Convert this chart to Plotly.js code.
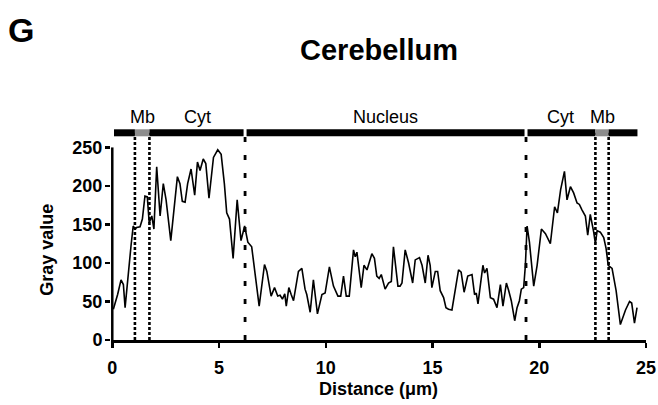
<!DOCTYPE html>
<html>
<head>
<meta charset="utf-8">
<script src="https://cdn.plot.ly/plotly-3.0.1.min.js"></script>
<style>
  html, body { margin: 0; padding: 0; background: #fff; }
  #chart { width: 658px; height: 405px; }
</style>
</head>
<body>
<div id="chart"></div>
<script>
// ---- Data ----
const distance = [0.05,0.25,0.41,0.52,0.60,0.75,0.88,0.98,1.06,1.14,1.30,1.41,1.53,1.64,1.73,1.85,1.95,2.08,2.24,2.39,2.52,2.74,2.89,3.05,3.17,3.28,3.41,3.53,3.69,3.86,3.99,4.11,4.26,4.38,4.53,4.74,4.94,5.10,5.25,5.36,5.49,5.66,5.85,6.03,6.20,6.35,6.53,6.88,7.13,7.24,7.44,7.60,7.75,7.86,7.97,8.08,8.15,8.27,8.38,8.49,8.72,8.88,9.03,9.11,9.27,9.42,9.61,9.82,9.97,10.17,10.36,10.57,10.70,10.83,10.96,11.10,11.30,11.38,11.46,11.66,11.79,11.93,12.16,12.28,12.39,12.50,12.60,12.66,12.78,12.94,13.07,13.17,13.38,13.48,13.57,13.72,13.88,14.07,14.19,14.39,14.51,14.66,14.79,14.89,14.97,15.13,15.24,15.36,15.52,15.63,15.75,15.91,16.07,16.22,16.34,16.48,16.65,16.85,16.97,17.05,17.13,17.29,17.36,17.44,17.55,17.71,17.86,18.02,18.18,18.30,18.46,18.57,18.69,18.85,18.96,19.07,19.16,19.27,19.35,19.43,19.54,19.74,19.90,20.10,20.29,20.52,20.72,20.85,21.00,21.18,21.30,21.46,21.61,21.77,21.88,22.00,22.16,22.27,22.39,22.55,22.63,22.71,22.86,23.02,23.13,23.23,23.41,23.60,23.80,24.04,24.23,24.33,24.46,24.58];
const grayValue = [40,59,78,72,42,89,123,148,144,146,147,157,187,186,152,161,144,225,161,203,182,129,169,212,203,180,179,203,222,188,231,220,235,229,184,237,247,241,203,165,157,106,182,129,148,127,121,44,98,89,57,68,57,58,53,60,44,68,59,51,89,93,66,59,36,78,34,59,61,95,70,57,57,83,57,57,117,108,114,68,97,91,112,106,83,80,85,78,66,74,76,121,70,70,74,117,100,74,104,107,97,74,110,97,68,89,89,64,55,42,40,39,64,91,88,62,83,85,59,61,47,80,97,87,93,55,53,42,72,44,74,64,51,25,42,51,66,68,97,148,127,70,97,144,138,125,173,165,195,219,182,199,191,178,176,169,161,136,163,140,125,142,140,133,119,97,93,64,20,39,50,48,22,42];

// Compartment labels and their boundaries (µm)
const regionNames = ["Mb", "Cyt", "Nucleus", "Cyt", "Mb"];
const regionStart = [1.06, 1.74, 6.22, 19.38, 22.63];
const regionEnd   = [1.74, 6.22, 19.38, 22.63, 23.25];
const profileExtent = [0.08, 24.6];
const barLevel = 269;        // gray value level of the compartment bar
const labelLevel = 290;      // gray value level of the compartment labels

const xTicks = [0, 5, 10, 15, 20, 25];
const yTicks = [0, 50, 100, 150, 200, 250];

const FONT = 'Liberation Sans, Arial, sans-serif';

// ---- Build traces ----
const traces = [];

// vertical dashed boundaries
const membraneBounds = [regionStart[0], regionEnd[0], regionStart[4], regionEnd[4]];
const nucleusBounds = [regionStart[2], regionEnd[2]];
membraneBounds.forEach(b => traces.push({
  x: [b, b], y: [0, barLevel], mode: 'lines', hoverinfo: 'skip', showlegend: false,
  line: { color: '#000', width: 2.6, dash: '3px,2px' }
}));
nucleusBounds.forEach(b => traces.push({
  x: [b, b], y: [0, barLevel], mode: 'lines', hoverinfo: 'skip', showlegend: false,
  line: { color: '#000', width: 2.8, dash: '5px,13px' }
}));

// compartment bar segments
const gap = 0.07;
const segs = [];
segs.push([profileExtent[0], regionStart[0], '#000']);
segs.push([regionStart[0], regionEnd[0], '#8c8c8c']);
segs.push([regionStart[1], regionEnd[1] - gap, '#000']);
segs.push([regionStart[2] + gap, regionEnd[2] - gap, '#000']);
segs.push([regionStart[3] + gap, regionEnd[3], '#000']);
segs.push([regionStart[4], regionEnd[4], '#8c8c8c']);
segs.push([regionEnd[4], profileExtent[1], '#000']);
segs.forEach(s => traces.push({
  x: [s[0], s[1]], y: [barLevel, barLevel], mode: 'lines', hoverinfo: 'skip', showlegend: false,
  line: { color: s[2], width: 7 }
}));

// y axis line (0 to 250)
traces.push({
  x: [0, 0], y: [yTicks[0], yTicks[yTicks.length - 1]], mode: 'lines', hoverinfo: 'skip', showlegend: false,
  line: { color: '#000', width: 2.5 }
});

// profile
traces.push({
  x: distance, y: grayValue, mode: 'lines', showlegend: false,
  line: { color: '#000', width: 1.6 }
});

// ---- Annotations ----
const annotations = regionNames.map((n, i) => ({
  x: (regionStart[i] + regionEnd[i]) / 2, y: labelLevel, xref: 'x', yref: 'y',
  text: n, showarrow: false, xanchor: 'center', yanchor: 'middle',
  font: { family: FONT, size: 18, color: '#000' }
}));
annotations.push({
  text: '<b>G</b>', xref: 'paper', yref: 'paper', x: -0.197, y: 1.36,
  showarrow: false, xanchor: 'left', yanchor: 'middle',
  font: { family: FONT, size: 34, color: '#000' }
});
annotations.push({
  text: '<b>Gray value</b>', xref: 'paper', yref: 'y', x: -0.12, y: 117,
  showarrow: false, textangle: -90, xanchor: 'center', yanchor: 'middle',
  font: { family: FONT, size: 18, color: '#000' }
});
annotations.push({
  text: '<b>Distance (μm)</b>', xref: 'paper', yref: 'paper', x: 0.5, y: -0.213,
  showarrow: false, xanchor: 'center', yanchor: 'middle',
  font: { family: FONT, size: 18, color: '#000' }
});

const layout = {
  width: 658, height: 405,
  margin: { l: 111, r: 12, t: 112, b: 65 },
  paper_bgcolor: '#fff', plot_bgcolor: '#fff',
  title: {
    text: '<b>Cerebellum</b>', x: 0.576, xanchor: 'center', y: 0.878, yanchor: 'middle',
    font: { family: FONT, size: 29, color: '#000' }
  },
  xaxis: {
    range: [-0.06, 25], tickvals: xTicks, ticktext: xTicks.map(String),
    showline: true, linecolor: '#000', linewidth: 2.5, ticks: 'outside', ticklen: 5, tickwidth: 2.5,
    tickcolor: '#000', showgrid: false, zeroline: false, ticklabelstandoff: 5,
    tickfont: { family: FONT, size: 18, color: '#000', weight: 'bold' }
  },
  yaxis: {
    range: [0, 296], tickvals: yTicks, ticktext: yTicks.map(String),
    showline: false, ticks: 'outside', ticklen: 5, tickwidth: 2.5, tickcolor: '#000',
    showgrid: false, zeroline: false, ticklabelstandoff: -1,
    tickfont: { family: FONT, size: 18, color: '#000', weight: 'bold' }
  },
  annotations: annotations
};

Plotly.newPlot('chart', traces, layout, { staticPlot: true, displayModeBar: false });
</script>
</body>
</html>
